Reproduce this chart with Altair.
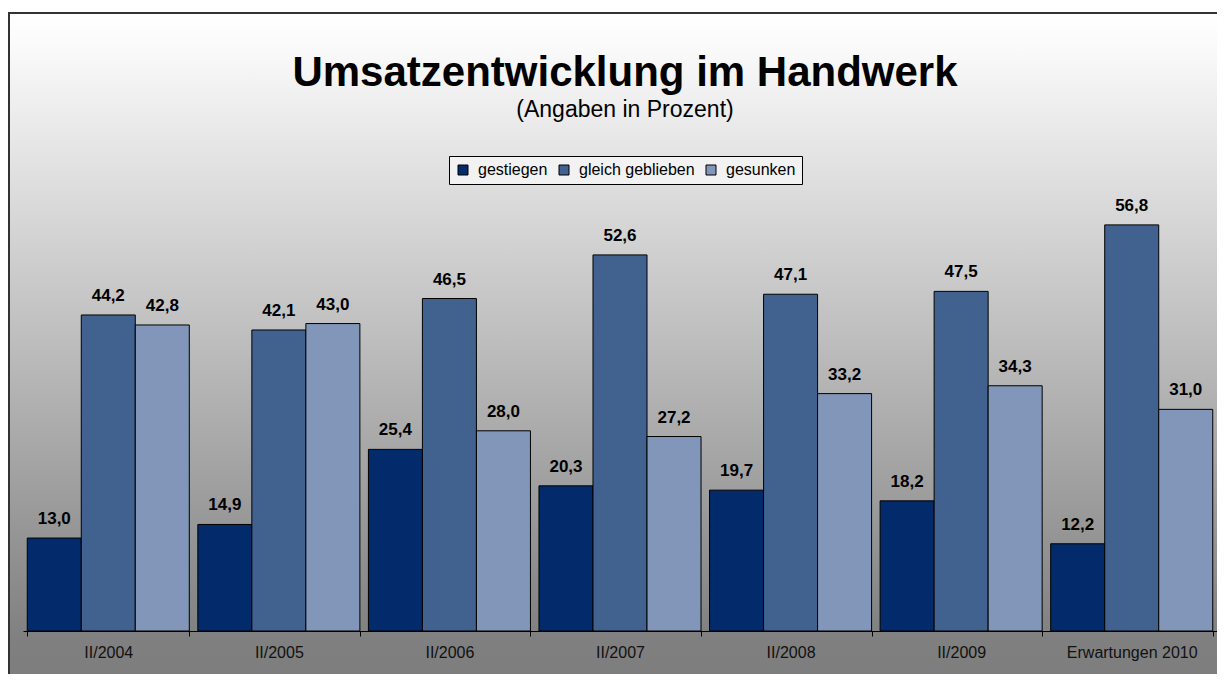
import altair as alt
import pandas as pd

periods = ["II/2004", "II/2005", "II/2006", "II/2007", "II/2008", "II/2009", "Erwartungen 2010"]
series = ["gestiegen", "gleich geblieben", "gesunken"]
gestiegen = [13.0, 14.9, 25.4, 20.3, 19.7, 18.2, 12.2]
gleich_geblieben = [44.2, 42.1, 46.5, 52.6, 47.1, 47.5, 56.8]
gesunken = [42.8, 43.0, 28.0, 27.2, 33.2, 34.3, 31.0]
colors = ["#032b6b", "#41618f", "#8196b8"]

rows = []
for i, p in enumerate(periods):
    for s, vals in zip(series, [gestiegen, gleich_geblieben, gesunken]):
        rows.append({"period": p, "series": s, "value": vals[i]})
df = pd.DataFrame(rows)

FONT = "Liberation Sans, Arial, sans-serif"
W, H = 1194, 429

bg = alt.Chart(pd.DataFrame({"k": [0]})).mark_rect(
    fill={
        "gradient": "linear",
        "x1": 0, "y1": 0, "x2": 0, "y2": 1,
        "stops": [
            {"offset": 0, "color": "#ffffff"},
            {"offset": 0.05, "color": "#fafafa"},
            {"offset": 0.92, "color": "#808080"},
            {"offset": 1, "color": "#7c7c7c"},
        ],
    },
    stroke="#333333",
    strokeWidth=2,
).encode(x=alt.value(-14), x2=alt.value(1220), y=alt.value(-189), y2=alt.value(490))

x_enc = alt.X(
    "period:N",
    sort=periods,
    title=None,
    scale=alt.Scale(paddingInner=0.05, paddingOuter=0.025),
    axis=alt.Axis(
        labelAngle=0,
        tickBand="extent",
        domainColor="black",
        tickColor="black",
        tickSize=5,
        labelFontSize=16,
        labelFont=FONT,
        labelPadding=8,
        labelColor="#111111",
        grid=False,
        zindex=2,
    ),
)
xo_enc = alt.XOffset("series:N", sort=series, scale=alt.Scale(paddingInner=0, paddingOuter=0))
y_enc = alt.Y("value:Q", scale=alt.Scale(domain=[0, 60]), axis=None)

bars = alt.Chart(df).mark_bar(stroke="black", strokeWidth=1, opacity=1).encode(
    x=x_enc,
    xOffset=xo_enc,
    y=y_enc,
    color=alt.Color(
        "series:N",
        scale=alt.Scale(domain=series, range=colors),
        legend=alt.Legend(
            title=None,
            orient="none",
            legendX=426,
            legendY=-46,
            direction="horizontal",
            symbolType="square",
            symbolSize=100,
            symbolStrokeColor="black",
            symbolStrokeWidth=1,
            symbolOpacity=1,
            labelFontSize=16,
            labelFont=FONT,
            labelColor="black",
            labelOffset=7,
            columnPadding=8,
            padding=6,
            strokeColor="black",
            fillColor="#f2f2f2",
        ),
    ),
)

labels = alt.Chart(df).transform_calculate(
    lbl="replace(format(datum.value, '.1f'), '.', ',')"
).mark_text(
    fontSize=17, fontWeight="bold", font=FONT, dy=-14, baseline="alphabetic", color="black"
).encode(x=x_enc, xOffset=xo_enc, y=y_enc, text="lbl:N")

chart = alt.layer(bg, bars, labels).properties(
    width=W,
    height=H,
    title=alt.TitleParams(
        text="Umsatzentwicklung im Handwerk",
        subtitle="(Angaben in Prozent)",
        font=FONT,
        subtitleFont=FONT,
        fontSize=42,
        subtitleFontSize=23,
        fontWeight="bold",
        color="black",
        subtitleColor="black",
        anchor="middle",
        frame="group",
        offset=-111,
        subtitlePadding=4,
        dx=5,
    ),
    autosize=alt.AutoSizeParams(type="none"),
    padding={"left": 15, "top": 194, "right": 0, "bottom": 43},
).configure_view(stroke=None).configure(font=FONT)

chart.save("out.html", embed_options={"renderer": "svg", "actions": False})
